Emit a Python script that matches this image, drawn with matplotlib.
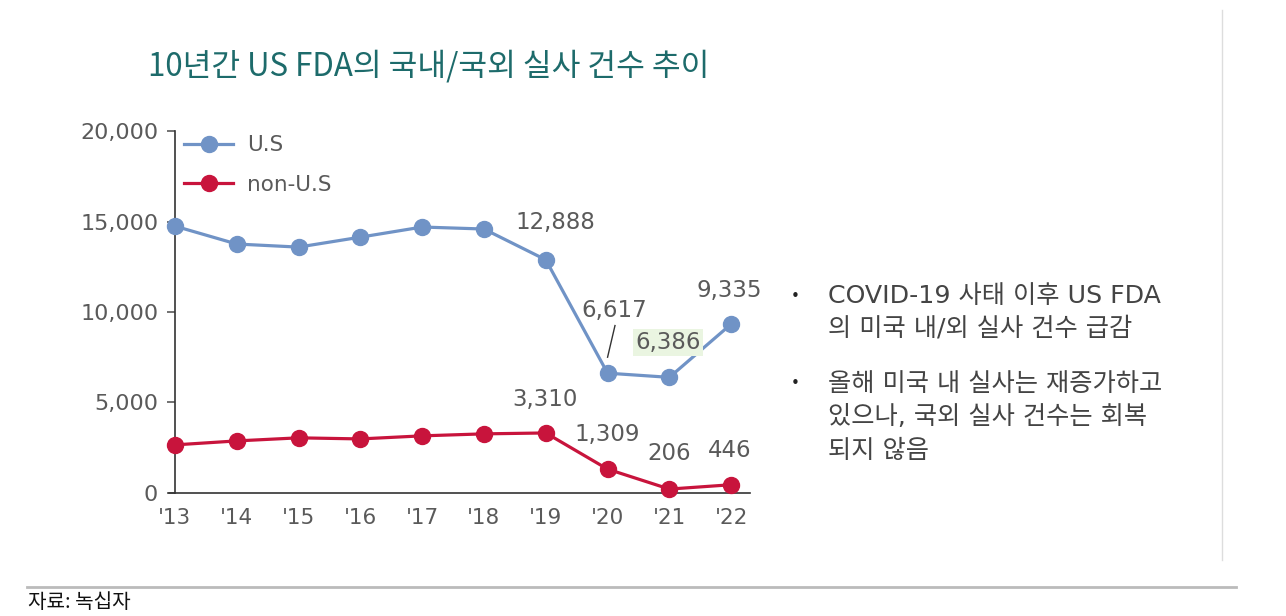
import matplotlib
matplotlib.use("Agg")
import matplotlib.pyplot as plt
from matplotlib.lines import Line2D

plt.rcParams['font.family'] = ['DejaVu Sans', 'Noto Sans CJK KR']

# 데이터
years = ["'13", "'14", "'15", "'16", "'17", "'18", "'19", "'20", "'21", "'22"]
us = [14750, 13760, 13590, 14140, 14700, 14590, 12888, 6617, 6386, 9335]
non_us = [2650, 2870, 3040, 2980, 3150, 3260, 3310, 1309, 206, 446]
yticks = [0, 5000, 10000, 15000, 20000]

blue = "#7093c6"
red = "#c8143c"
gray = "#5a5a5a"

fig = plt.figure(figsize=(12.86, 6.16), dpi=100)
ax = fig.add_axes([0.136, 0.2, 0.447, 0.587])

x = list(range(len(years)))
ax.plot(x, us, color=blue, lw=2.3, marker="o", ms=11.5, label="U.S", clip_on=False, zorder=3)
ax.plot(x, non_us, color=red, lw=2.3, marker="o", ms=11.5, label="non-U.S", clip_on=False, zorder=3)

ax.set_xlim(0, 9.3)
ax.set_ylim(0, 20000)
ax.set_xticks(x)
ax.set_xticklabels(years)
ax.set_yticks(yticks)
ax.set_yticklabels([f"{v:,}" for v in yticks])
ax.tick_params(axis="x", length=0, pad=11, labelsize=15.5, colors=gray)
ax.tick_params(axis="y", length=6, width=1.2, pad=6, labelsize=16, colors=gray)
for s in ["top", "right"]:
    ax.spines[s].set_visible(False)
ax.spines["left"].set_color("#333333")
ax.spines["bottom"].set_color("#333333")
ax.spines["left"].set_linewidth(1.2)
ax.spines["bottom"].set_linewidth(1.2)
ax.spines["bottom"].set_bounds(-0.1, 9.3)

leg = ax.legend(loc="upper left", bbox_to_anchor=(-0.018, 1.042), frameon=False,
                fontsize=15.5, handlelength=2.3, labelspacing=0.9, handletextpad=0.65,
                labelcolor=gray)

# 값 라벨
lab = dict(fontsize=16.5, color=gray, ha="center", va="center")
ax.text(6.15, 14950, "12,888", **lab)
ax.text(7.11, 10100, "6,617", **lab)
ax.plot([7.0, 7.12], [7500, 9250], color="#333333", lw=1)
ax.text(7.98, 8290, "6,386", bbox=dict(facecolor="#eaf5e1", edgecolor="none", pad=1.5), **lab)
ax.text(8.97, 11215, "9,335", **lab)
ax.text(5.98, 5140, "3,310", **lab)
ax.text(7.0, 3200, "1,309", **lab)
ax.text(8.0, 2200, "206", **lab)
ax.text(8.97, 2320, "446", **lab)

# 제목
fig.text(148 / 1286, 1 - 66 / 616, "10년간 US FDA의 국내/국외 실사 건수 추이",
         fontsize=22.5, color="#1d6b6b", fontweight="medium",
         family=["Noto Sans CJK KR"], va="center", ha="left")

# 오른쪽 설명
lines = [(296, True, "COVID-19 사태 이후 US FDA"),
         (329, False, "의 미국 내/외 실사 건수 급감"),
         (384, True, "올해 미국 내 실사는 재증가하고"),
         (417, False, "있으나, 국외 실사 건수는 회복"),
         (451, False, "되지 않음")]
for yy, bullet, t in lines:
    if bullet:
        fig.text(795 / 1286, 1 - yy / 616, "•", fontsize=11, color="#222222",
                 va="center", ha="center")
    fig.text(828 / 1286, 1 - yy / 616, t, fontsize=18.2, color="#444444",
             va="center", ha="left")

# 구분선
fig.add_artist(Line2D([1222 / 1286, 1222 / 1286], [1 - 10 / 616, 1 - 560 / 616],
                      color="#dddddd", lw=1))
fig.add_artist(Line2D([27 / 1286, 1236 / 1286], [1 - 587 / 616, 1 - 587 / 616],
                      color="#bbbbbb", lw=2))

fig.text(28 / 1286, 1 - 603 / 616, "자료: 녹십자", fontsize=14.5, color="#111111",
         family=["Noto Sans CJK KR"], va="center", ha="left")

fig.savefig("out.png", dpi=100)
